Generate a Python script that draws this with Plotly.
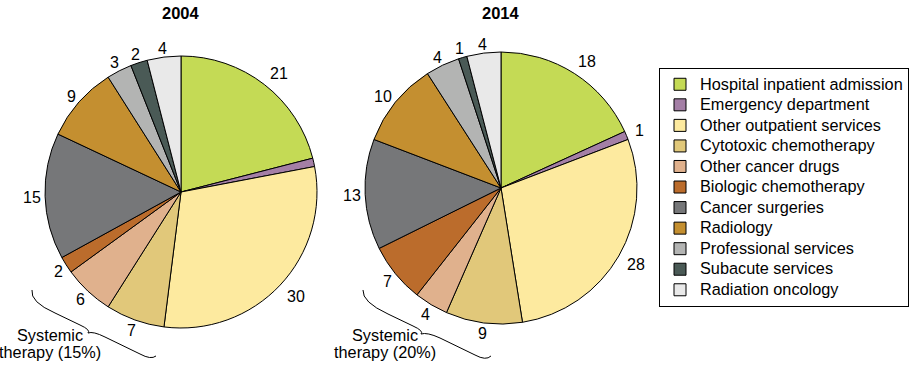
import math
import plotly.graph_objects as go

categories = ["Hospital inpatient admission", "Emergency department", "Other outpatient services",
              "Cytotoxic chemotherapy", "Other cancer drugs", "Biologic chemotherapy",
              "Cancer surgeries", "Radiology", "Professional services", "Subacute services",
              "Radiation oncology"]
values_2004 = [21, 1, 30, 7, 6, 2, 15, 9, 3, 2, 4]
values_2014 = [18, 1, 28, 9, 4, 7, 13, 10, 4, 1, 4]
labels_2004 = ["21", "", "30", "7", "6", "2", "15", "9", "3", "2", "4"]
labels_2014 = ["18", "1", "28", "9", "4", "7", "13", "10", "4", "1", "4"]
years = ["2004", "2014"]
systemic_labels = ["therapy (15%)", "therapy (20%)"]
colors = ["#c4da55", "#a47fa6", "#fdea9f", "#e1c87a", "#e0b18d", "#bb6c2c",
          "#767779", "#c48f30", "#b3b4b3", "#4a5a56", "#e9e9e9"]

W, H = 910, 365
R = 136
CENTERS = [(181, 192), (501, 188)]
LABEL_SIZE = 16


def px(x):
    return x / W


def py(y):
    return 1 - y / H


def dom(cx, cy, r):
    return dict(x=[px(cx - r), px(cx + r)], y=[py(cy + r), py(cy - r)])


legend_labels = [f"<span style='font-size:16.3px'>{c}</span>" for c in categories]

fig = go.Figure()
annotations = []
for vals, labs, (cx, cy) in [(values_2004, labels_2004, CENTERS[0]), (values_2014, labels_2014, CENTERS[1])]:
    fig.add_trace(go.Pie(
        labels=legend_labels, values=vals, textinfo="none",
        sort=False, direction="clockwise", rotation=0,
        marker=dict(colors=colors, line=dict(color="black", width=1)),
        domain=dom(cx, cy, R), hovertext=categories, hoverinfo="text+value",
        showlegend=True,
    ))
    # outside value labels, placed at each slice's mid angle (computed from the data)
    total = sum(vals)
    cum = 0
    for v, t in zip(vals, labs):
        mid = (cum + v / 2) / total * 2 * math.pi
        cum += v
        if not t:
            continue
        s, c = math.sin(mid), math.cos(mid)
        hw, hh = 4.5 * len(t), 6.0
        gap = 9 if s > 0.3 else 4
        d = R + gap
        sx = max(-1.0, min(1.0, 1.6 * s))
        x = cx + d * s + hw * sx
        y = cy - d * c - hh * c + 1
        annotations.append(dict(text=t, x=px(x), y=py(y), font=dict(size=LABEL_SIZE)))

for yr, (cx, cy) in zip(years, CENTERS):
    annotations.append(dict(text=f"<b>{yr}</b>", x=px(cx), y=py(13), font=dict(size=16.5)))

for lab, (sx, ty) in zip(systemic_labels, [(50, 335), (385, 335)]):
    annotations.append(dict(text="Systemic", x=px(sx), y=py(ty), font=dict(size=16.3)))
    annotations.append(dict(text=lab, x=px(sx), y=py(ty + 17), font=dict(size=16.3)))

for a in annotations:
    a.update(xref="paper", yref="paper", showarrow=False, xanchor="center", yanchor="middle")


def brace(pts):
    out = []
    for tok in pts:
        if isinstance(tok, str):
            out.append(tok)
        else:
            out.append(f"{px(tok[0]):.5f},{py(tok[1]):.5f}")
    return " ".join(out)


b1 = brace(["M", (32, 290), "Q", (30, 302), (55, 313), "L", (80, 325), "Q", (91, 330), (88, 333),
            "Q", (93, 331), (105, 337), "L", (140, 354), "Q", (151, 360), (156, 356)])
b2 = brace(["M", (363, 290), "Q", (362, 302), (388, 314), "L", (413, 326), "Q", (424, 331), (421, 334),
            "Q", (427, 332), (440, 338), "L", (475, 355), "Q", (486, 361), (491, 356)])
shapes = [dict(type="path", path=p, xref="paper", yref="paper", line=dict(color="black", width=1))
          for p in (b1, b2)]

fig.update_layout(
    width=W, height=H, margin=dict(l=0, r=0, t=0, b=0),
    paper_bgcolor="white", plot_bgcolor="white",
    font=dict(family="Liberation Sans, Arial, Helvetica, sans-serif", color="black", size=15),
    legend=dict(x=px(659), y=py(68), xanchor="left", yanchor="top",
                bordercolor="black", borderwidth=1, font=dict(size=13.5), traceorder="normal"),
    annotations=annotations, shapes=shapes,
)
fig.write_html("out.html", config={"displayModeBar": False},
               post_script="document.body.style.margin='0';")
